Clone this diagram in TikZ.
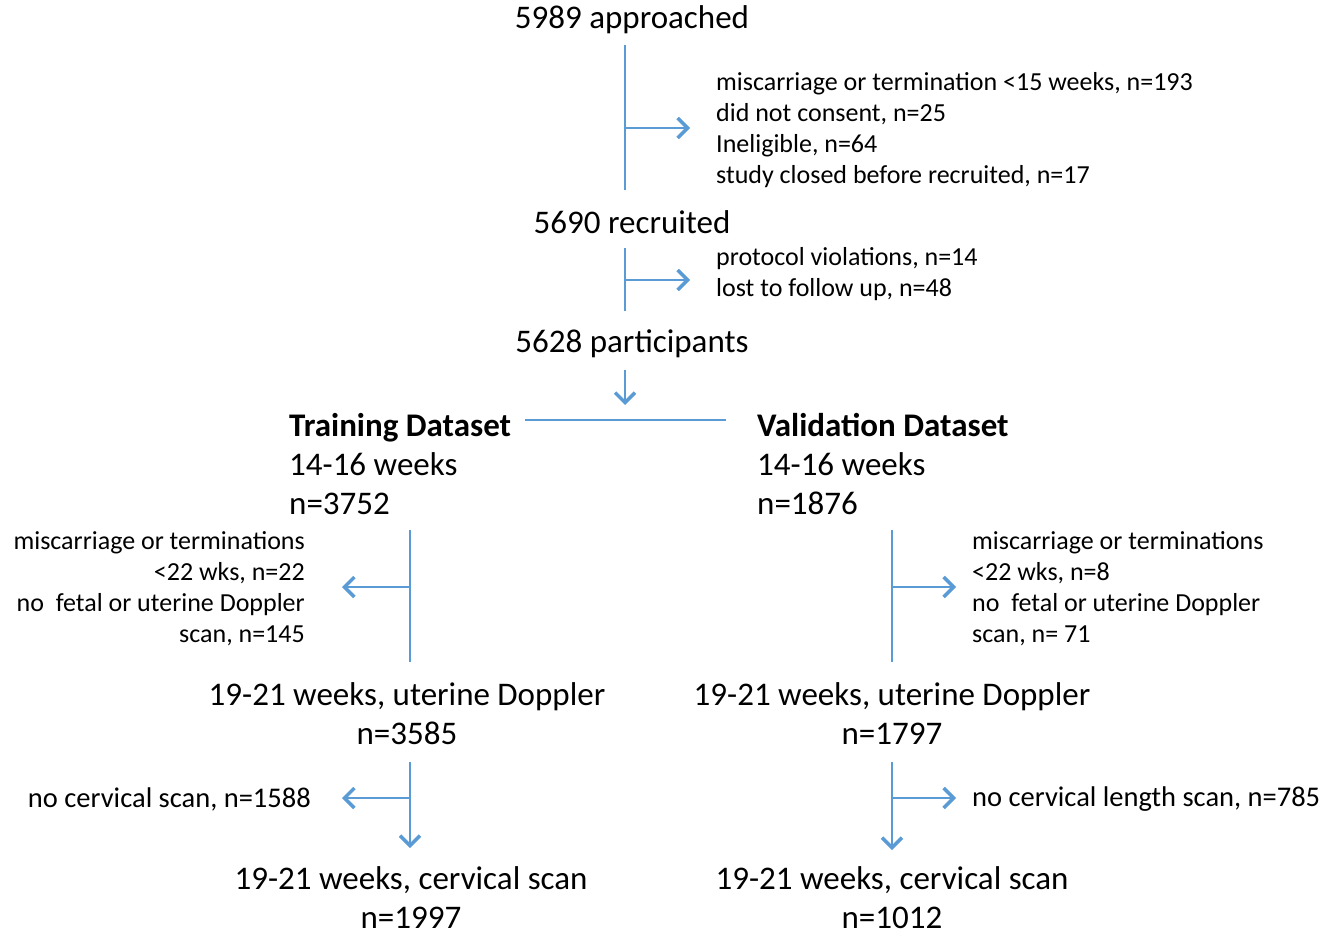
\documentclass[tikz,border=0pt]{standalone}
\usepackage{fontspec}
\setmainfont{Carlito}
\usepackage{xcolor}
\usepackage{tikz}
\usetikzlibrary{arrows.meta,positioning}

\definecolor{flowblue}{HTML}{5B9BD5}
\tikzset{
  big/.style={font=\fontsize{33}{39}\selectfont, inner sep=0pt},
  mid/.style={font=\fontsize{28.5}{34}\selectfont, inner sep=0pt},
  small/.style={font=\fontsize{26}{31}\selectfont, inner sep=0pt},
  link/.style={flowblue, line width=2pt},
  arr/.style={link, -{Straight Barb[length=10pt,width=20pt,line width=3.5pt]}},
}

\begin{document}
\begin{tikzpicture}[x=1pt,y=-1pt]
\useasboundingbox (0,0) rectangle (1326,937);

% Recruitment
\node[big] (approached) at (632,20) {5989 approached};
\node[big] (recruited) at (632,222) {5690 recruited};
\node[big] (participants) at (632,344) {5628 participants};
\node[small, align=left, anchor=west] (excl1) at (716,130) {miscarriage or termination <15 weeks, n=193\\did not consent, n=25\\Ineligible, n=64\\study closed before recruited, n=17};
\node[small, align=left, anchor=west] (excl2) at (716,274) {protocol violations, n=14\\lost to follow up, n=48};

\coordinate (a1) at (625,45);
\coordinate (a2) at (625,190);
\coordinate (a3) at (625,128);
\draw[link] (a1) -- (a2);
\draw[arr] (a3) -- ++(65,0);

\coordinate (r1) at (625,248);
\coordinate (r2) at (625,311);
\coordinate (r3) at (625,280);
\draw[link] (r1) -- (r2);
\draw[arr] (r3) -- ++(65,0);

\coordinate (p1) at (625,370);
\coordinate (p2) at (625,405);
\draw[arr] (p1) -- (p2);
\draw[link] (525,420) -- (726,420);

% Datasets
\node[big, align=left, anchor=west] (train) at (289,464) {\textbf{Training Dataset}\\14-16 weeks\\n=3752};
\node[big, align=left, anchor=west] (valid) at (757,464) {\textbf{Validation Dataset}\\14-16 weeks\\n=1876};

\node[small, align=right, anchor=east] (exclTrain) at (305,589) {miscarriage or terminations\\<22 wks, n=22\\no\ \ fetal or uterine Doppler\\scan, n=145};
\node[small, align=left, anchor=west] (exclValid) at (972,589) {miscarriage or terminations\\<22 wks, n=8\\no\ \ fetal or uterine Doppler\\scan, n= 71};

\draw[link] (410,530) coordinate (t1) -- (410,662) coordinate (t2);
\draw[arr] (410,587) coordinate (t3) -- ++(-68,0);
\draw[link] (892,530) coordinate (v1) -- (892,662) coordinate (v2);
\draw[arr] (892,587) coordinate (v3) -- ++(64,0);

% Doppler
\node[big, align=center] (trainDop) at (407,714) {19-21 weeks, uterine Doppler\\n=3585};
\node[big, align=center] (validDop) at (892,714) {19-21 weeks, uterine Doppler\\n=1797};

\node[mid, anchor=east] (noCxTrain) at (311,799) {no cervical scan, n=1588};
\node[mid, anchor=west] (noCxValid) at (972,799) {no cervical length scan, n=785};

\draw[arr] (410,762) coordinate (t4) -- (410,848) coordinate (t5);
\draw[arr] (410,798) coordinate (t6) -- ++(-68,0);
\draw[arr] (892,762) coordinate (v4) -- (892,850) coordinate (v5);
\draw[arr] (892,798) coordinate (v6) -- ++(64,0);

% Cervical scan
\node[big, align=center] (trainCx) at (411,898) {19-21 weeks, cervical scan\\n=1997};
\node[big, align=center] (validCx) at (892,898) {19-21 weeks, cervical scan\\n=1012};
\end{tikzpicture}
\end{document}
